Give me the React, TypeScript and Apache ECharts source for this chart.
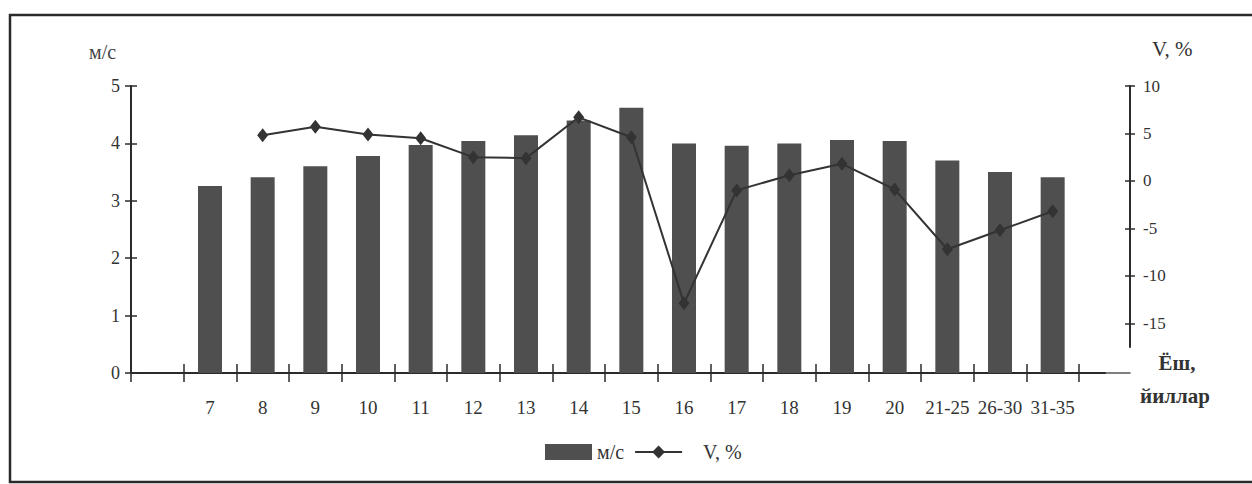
import React, { useEffect, useRef } from "react";
import * as echarts from "echarts";

// Age groups (first slot is empty in the original chart)
const categories = ["", "7", "8", "9", "10", "11", "12", "13", "14", "15", "16", "17", "18", "19", "20", "21-25", "26-30", "31-35"];
// Speed, m/s (bars, left axis)
const speedValues = [null, 3.26, 3.41, 3.6, 3.78, 3.97, 4.04, 4.14, 4.4, 4.62, 4.0, 3.96, 4.0, 4.06, 4.04, 3.7, 3.5, 3.41];
// Variation V, % (line, right axis)
const variationValues = [null, null, 4.8, 5.7, 4.9, 4.5, 2.5, 2.4, 6.7, 4.6, -12.9, -1.0, 0.6, 1.8, -0.9, -7.2, -5.2, -3.2];
const rightTicks = [-15, -10, -5, 0, 5, 10];

const FONT = '"Liberation Serif", "DejaVu Serif", serif';
const INK = "#2b2b2b";

export default function App() {
  const ref = useRef<HTMLDivElement>(null);

  useEffect(() => {
    if (!ref.current) return;
    const chart = echarts.init(ref.current, null, { renderer: "svg" });
    const noSplit = { show: false };
    const option: any = {
      animation: false,
      backgroundColor: "#ffffff",
      grid: [
        { left: 131, width: 948, top: 86, height: 287, outerBoundsMode: "none" },
        { left: 131, width: 948, top: 86, height: 261, outerBoundsMode: "none" },
        { left: 131, width: 999, top: 86, height: 287, outerBoundsMode: "none" },
        { left: 131, width: 974, top: 86, height: 287, outerBoundsMode: "none" },
      ],
      xAxis: [
        {
          type: "category", gridIndex: 0, position: "bottom", data: categories,
          axisLine: { show: false },
          axisTick: { show: true, length: 9, lineStyle: { color: INK, width: 1.5 } },
          axisLabel: { interval: 0, fontFamily: FONT, fontSize: 19, color: "#333", margin: 25 },
          splitLine: noSplit,
        },
        {
          type: "category", gridIndex: 0, position: "bottom", data: categories,
          axisLine: { show: false },
          axisTick: { show: true, inside: true, length: 9, lineStyle: { color: INK, width: 1.5 } },
          axisLabel: { show: false },
          splitLine: noSplit,
        },
        { type: "category", gridIndex: 1, data: categories, show: false },
        {
          type: "value", gridIndex: 2, position: "top", min: 0, max: 1,
          axisLine: { show: true, lineStyle: { color: "#555", width: 1.5 } },
          axisTick: { show: false }, axisLabel: { show: false }, splitLine: noSplit,
        },
        {
          type: "value", gridIndex: 3, position: "bottom", min: 0, max: 1,
          axisLine: { show: true, lineStyle: { color: INK, width: 2 } },
          axisTick: { show: false }, axisLabel: { show: false }, splitLine: noSplit,
        },
      ],
      yAxis: [
        {
          type: "value", gridIndex: 0, position: "left", min: 0, max: 5, interval: 1,
          axisLine: { show: true, lineStyle: { color: INK, width: 2 } },
          axisTick: { show: true, length: 6, lineStyle: { color: INK, width: 1.5 } },
          axisLabel: { fontFamily: FONT, fontSize: 18, color: "#333", margin: 11 },
          splitLine: noSplit,
        },
        {
          type: "value", gridIndex: 0, position: "left", min: 0, max: 5, interval: 1,
          axisLine: { show: false },
          axisTick: { show: true, inside: true, length: 6, lineStyle: { color: INK, width: 1.5 } },
          axisLabel: { show: false },
          splitLine: noSplit,
        },
        {
          type: "value", gridIndex: 1, position: "right", offset: 51, min: -17.5, max: 10,
          axisLine: { show: true, lineStyle: { color: INK, width: 2 } },
          axisTick: { show: true, length: 5, customValues: rightTicks, lineStyle: { color: INK, width: 1.5 } },
          axisLabel: { customValues: rightTicks, fontFamily: FONT, fontSize: 17, color: "#333", margin: 13 },
          splitLine: noSplit,
        },
        {
          type: "value", gridIndex: 1, position: "right", offset: 51, min: -17.5, max: 10,
          axisLine: { show: false },
          axisTick: { show: true, inside: true, length: 5, customValues: rightTicks, lineStyle: { color: INK, width: 1.5 } },
          axisLabel: { show: false },
          splitLine: noSplit,
        },
        { type: "value", gridIndex: 2, show: false, min: 0, max: 1, splitLine: noSplit },
        { type: "value", gridIndex: 3, show: false, min: 0, max: 1, splitLine: noSplit },
      ],
      legend: {
        left: 540,
        top: 437,
        itemWidth: 47,
        itemHeight: 16,
        itemGap: 10,
        textStyle: { fontFamily: FONT, fontSize: 20, color: "#333" },
        data: [
          { name: "м/с", icon: "rect" },
          { name: "V, %", textStyle: { padding: [0, 0, 0, 16] } },
        ],
      },
      series: [
        {
          name: "м/с",
          type: "bar",
          xAxisIndex: 0,
          yAxisIndex: 0,
          data: speedValues,
          barWidth: 24,
          itemStyle: { color: "#4f4f4f" },
        },
        {
          name: "V, %",
          type: "line",
          xAxisIndex: 2,
          yAxisIndex: 2,
          data: variationValues,
          symbol: "diamond",
          symbolSize: [11, 14],
          z: 5,
          lineStyle: { color: "#333", width: 2 },
          itemStyle: { color: "#333" },
        },
      ],
      graphic: [
        {
          type: "rect",
          shape: { x: 10, y: 15, width: 1260, height: 467 },
          style: { fill: "none", stroke: "#2a2a2a", lineWidth: 2.5 },
          silent: true,
        },
        {
          type: "text", x: 89, y: 52,
          style: { text: "м/с", fontFamily: FONT, fontSize: 20, fill: "#444", textAlign: "left", textVerticalAlign: "middle" },
        },
        {
          type: "text", x: 1152, y: 49,
          style: { text: "V, %", fontFamily: FONT, fontSize: 21, fill: "#333", textAlign: "left", textVerticalAlign: "middle" },
        },
        {
          type: "text", x: 1177, y: 363,
          style: { text: "Ёш,", fontFamily: FONT, fontSize: 21, fontWeight: "bold", fill: "#333", textAlign: "center", textVerticalAlign: "middle" },
        },
        {
          type: "text", x: 1175, y: 396,
          style: { text: "йиллар", fontFamily: FONT, fontSize: 21, fontWeight: "bold", fill: "#333", textAlign: "center", textVerticalAlign: "middle" },
        },
      ],
    };
    chart.setOption(option);
    return () => chart.dispose();
  }, []);

  return (
    <div
      ref={ref}
      style={{ position: "absolute", left: 0, top: 0, width: 1252, height: 484 }}
    />
  );
}
